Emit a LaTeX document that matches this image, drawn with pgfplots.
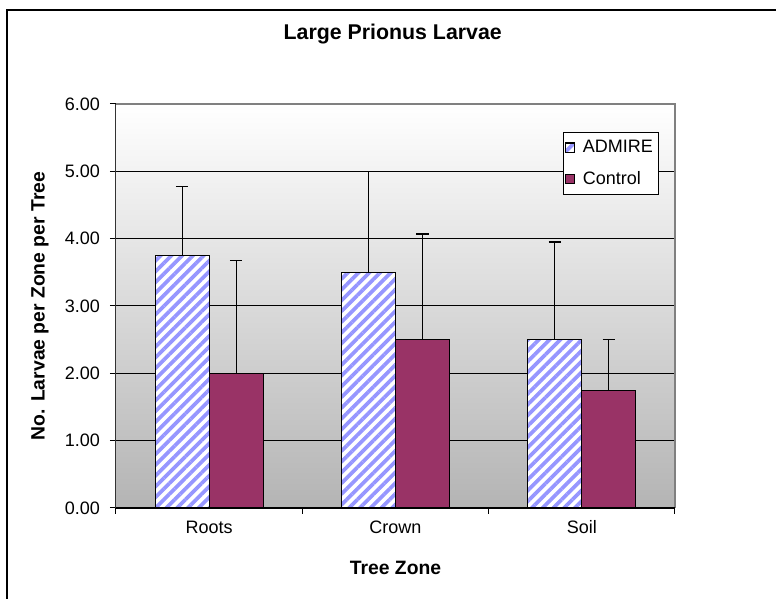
\documentclass[border=0pt]{standalone}
\usepackage{pgfplots}
\pgfplotsset{compat=1.18}
\usepackage{fontspec}
\setmainfont{Liberation Sans}
\usetikzlibrary{patterns.meta}
\definecolor{stripe}{RGB}{150,150,255}
\definecolor{plum}{RGB}{153,51,102}
\definecolor{bgbot}{RGB}{180,180,180}
\pgfplotsset{ybar legend/.style={legend image code/.code={\path (0pt,0pt) (10pt,0pt);\draw[##1,line width=0.75pt] (0.4pt,-3.4pt) rectangle (7.2pt,3.4pt);}}}
\begin{document}
\begin{tikzpicture}
\useasboundingbox (0,0) rectangle (582pt,449.25pt);
\draw[line width=1.5pt] (5pt,0) -- (5pt,441.75pt) -- (582pt,441.75pt);
\begin{axis}[
  at={(87pt,68.25pt)}, anchor=south west,
  width=419.25pt, height=303pt, scale only axis,
  xmin=-0.5, xmax=2.5, ymin=0, ymax=6,
  clip=false,
  ybar=0pt, bar width=0.29,
  axis line style={draw=none},
  axis background/.style={shade, top color=white, bottom color=bgbot},
  ytick={0,1,...,6},
  xtick pos=lower, ytick pos=left,
  /pgf/number format/assume math mode=true,
  yticklabel style={/pgf/number format/fixed, /pgf/number format/fixed zerofill, /pgf/number format/precision=2, xshift=-4pt},
  tick label style={font=\fontsize{13.5}{16}\selectfont},
  tick align=outside, major tick length=4.5pt,
  tick style={black, line width=0.75pt},
  ymajorgrids, major grid style={black, line width=0.75pt},
  xtick={-0.5,0.5,1.5,2.5}, xticklabels={},
  extra x ticks={0,1,2}, extra x tick labels={Roots,Crown,Soil},
  extra x tick style={major tick length=0pt, xmajorgrids=false, xticklabel style={yshift=-6pt}},
  title={Large Prionus Larvae},
  title style={font=\bfseries\fontsize{16}{19}\selectfont, at={(axis description cs:0.495,1.153)}, anchor=center},
  xlabel={Tree Zone},
  xlabel style={font=\bfseries\fontsize{14.5}{17}\selectfont, at={(axis description cs:0.5,-0.1485)}, anchor=center},
  ylabel={No. Larvae per Zone per Tree},
  ylabel style={font=\bfseries\fontsize{14.5}{17}\selectfont, at={(axis description cs:-0.136,0.5)}, anchor=center},
  legend style={at={(0.971,0.931)}, anchor=north east, draw=black, line width=0.75pt, fill=white,
    font=\fontsize{13.5}{16}\selectfont, inner xsep=1pt, inner ysep=4pt, row sep=8.5pt,
    nodes={inner xsep=3pt}},
  legend cell align=left,
]
\addplot[preaction={fill=white}, pattern={Lines[angle=45,distance=5.7pt,line width=2.8pt]}, pattern color=stripe, draw=black, line width=0.9pt,
  error bars/.cd, y dir=plus, y explicit, error mark=|,
  error bar style={black, line width=0.85pt},
  error mark options={black, mark size=4.7pt, line width=0.85pt}]
  coordinates {(0,3.75) +- (0,1.03) (1,3.50) +- (0,1.50) (2,2.50) +- (0,1.45)};
\addplot[fill=plum, draw=black, line width=0.9pt,
  error bars/.cd, y dir=plus, y explicit, error mark=|,
  error bar style={black, line width=0.85pt},
  error mark options={black, mark size=4.7pt, line width=0.85pt}]
  coordinates {(0,2.00) +- (0,1.68) (1,2.50) +- (0,1.57) (2,1.75) +- (0,0.75)};
\legend{ADMIRE,Control}
\draw[gray, line width=1.1pt] (rel axis cs:0,1) -- (rel axis cs:1,1) -- (rel axis cs:1,0);
\draw[black!80, line width=0.75pt] (rel axis cs:0,1) -- (rel axis cs:0,0);
\draw[black, line width=0.9pt] (rel axis cs:0,0) -- (rel axis cs:1,0);
\end{axis}
\end{tikzpicture}
\end{document}
